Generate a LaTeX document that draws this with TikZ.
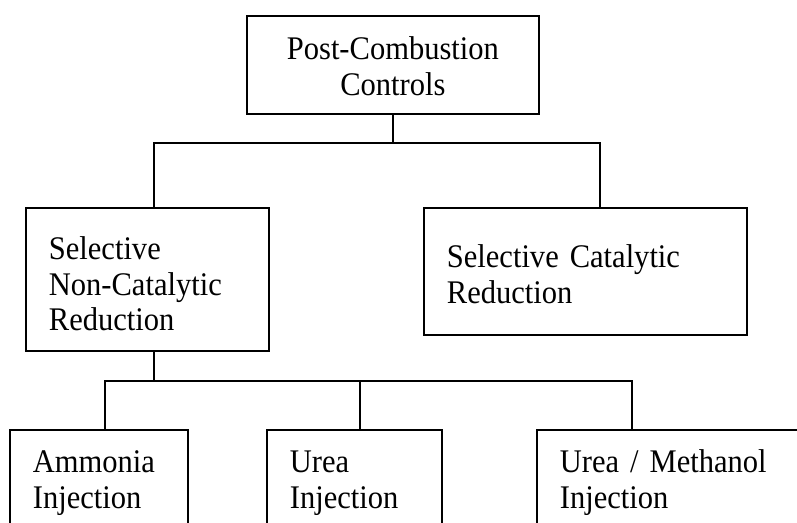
\documentclass[tikz,border=0pt]{standalone}
\usepackage{fontspec}
\setmainfont{Liberation Serif}[FakeStretch=0.925]
\begin{document}
\begin{tikzpicture}[x=1pt, y=-1pt, line width=1.8pt,
    box/.style={draw, anchor=north west, inner ysep=0pt, inner xsep=23pt,
        align=left, font=\fontsize{33}{35.5}\selectfont}]
    \useasboundingbox (0,0) rectangle (797,522);
    \clip (0,0) rectangle (797,522);

    \node[box, align=center, text width=246pt, text height=44pt, text depth=54pt] (post) at (246,15) {Post-Combustion\\Controls};
    \node[box, text width=197pt, text height=52pt, text depth=91pt] (snc) at (25,207) {Selective\\Non-Catalytic\\Reduction};
    \node[box, text width=277pt, text height=59.7pt, text depth=67.3pt] (scr) at (423,207) {Selective Catalytic\\Reduction};
    \node[box, text width=132pt, text height=43pt, text depth=70pt] (ammonia) at (9,429) {Ammonia\\Injection};
    \node[box, text width=129pt, text height=43pt, text depth=70pt] (urea) at (266,429) {Urea\\Injection};
    \node[box, text width=224pt, text height=43pt, text depth=70pt] (methanol) at (536,429) {Urea / Methanol\\Injection};

    \coordinate (splitL) at (153.7,143);
    \coordinate (splitR) at (600,143);
    \coordinate (subL) at (105.3,381);
    \coordinate (subM) at (360,381);
    \coordinate (subR) at (631.7,381);

    \draw (post.south) -- (post.south |- splitL);
    \draw (snc.north -| splitL) -- (splitL) -- (splitR) -- (scr.north -| splitR);
    \draw (snc.south -| splitL) -- (subL -| splitL);
    \draw (ammonia.north -| subL) -- (subL) -- (subR) -- (methanol.north -| subR);
    \draw (subM) -- (urea.north -| subM);
\end{tikzpicture}
\end{document}
